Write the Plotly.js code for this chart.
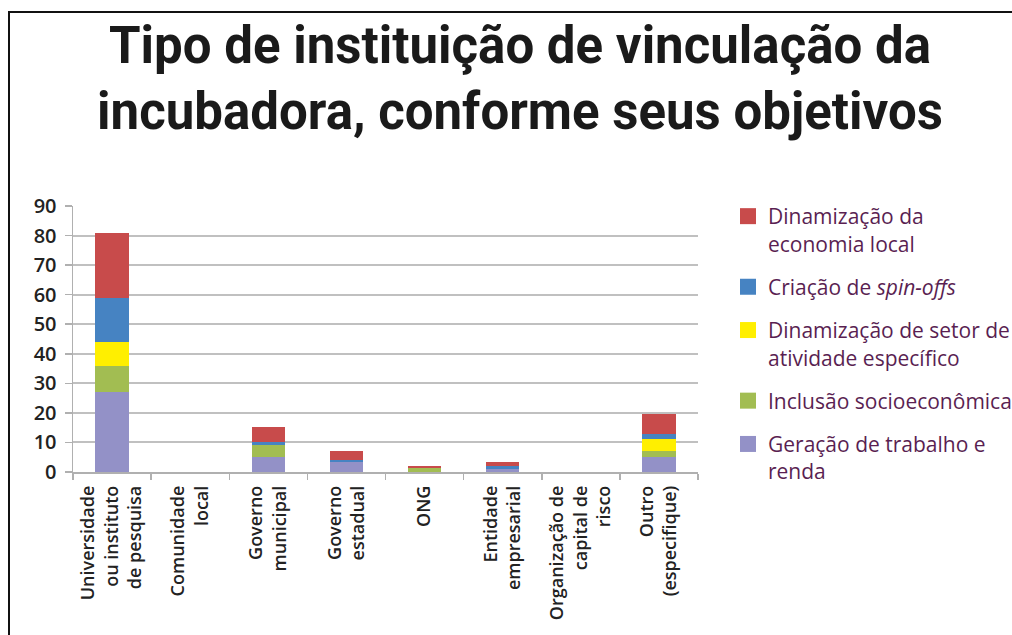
<!DOCTYPE html>
<html>
<head>
<meta charset="utf-8">
<script src="https://cdn.plot.ly/plotly-3.0.1.min.js"></script>
<style>
  html, body { margin: 0; padding: 0; background: #ffffff; }
  #wrap { position: relative; width: 1012px; height: 635px; overflow: hidden; }
  #chart { position: absolute; left: 0; top: 0; width: 1012px; height: 635px; }
  #frame { position: absolute; left: 8px; top: 11px; right: -10px; bottom: -10px;
           border-top: 2.5px solid #111; border-left: 2.5px solid #111; pointer-events: none; }
</style>
</head>
<body>
<div id="wrap">
  <div id="chart"></div>
  <div id="frame"></div>
</div>
<script>
// Categories (x axis tick labels)
var categories = [
  "Universidade<br>ou instituto<br>de pesquisa",
  "Comunidade<br>local",
  "Governo<br>municipal",
  "Governo<br>estadual",
  "ONG",
  "Entidade<br>empresarial",
  "Organização de<br>capital de<br>risco",
  "Outro<br>(especifique)"
];

// Series (stacked bottom to top)
var geracaoTrabalho   = [27, 0, 5,   3.5, 0,   0.9, 0, 5];
var inclusaoSocio     = [9,  0, 4,   0,   1.3, 0,   0, 2];
var dinamSetor        = [8,  0, 0,   0,   0,   0,   0, 4];
var criacaoSpinoffs   = [15, 0, 1,   0.5, 0,   1.2, 0, 2];
var dinamEconomia     = [22, 0, 5.3, 3.2, 0.8, 1.4, 0, 6.6];

var seriesNames = [
  "Geração de trabalho e<br>renda",
  "Inclusão socioeconômica",
  "Dinamização de setor de<br>atividade específico",
  "Criação de <i>spin-offs</i>",
  "Dinamização da<br>economia local"
];
var seriesValues = [geracaoTrabalho, inclusaoSocio, dinamSetor, criacaoSpinoffs, dinamEconomia];
var seriesColors = ["#9391c7", "#a2bd52", "#ffef00", "#4683c2", "#c84b4b"];

var yTicks = [0, 10, 20, 30, 40, 50, 60, 70, 80, 90];

var traces = [];
seriesValues.forEach(function (vals, i) {
  traces.push({
    type: "bar",
    x: categories,
    y: vals,
    name: seriesNames[i],
    marker: { color: seriesColors[i], line: { width: 0 } },
    showlegend: false,
    hoverinfo: "skip"
  });
});
// legend entries (square swatches), top series first
for (var i = seriesValues.length - 1; i >= 0; i--) {
  traces.push({
    type: "scatter",
    mode: "markers",
    x: [null],
    y: [null],
    name: seriesNames[i],
    legendgroup: "g" + i,
    marker: { color: seriesColors[i], symbol: "square", size: 16 },
    showlegend: true,
    hoverinfo: "skip"
  });
}

var layout = {
  width: 1012,
  height: 635,
  paper_bgcolor: "#ffffff",
  plot_bgcolor: "#ffffff",
  barmode: "stack",
  bargap: 0.57,
  margin: { l: 73, r: 314, t: 206, b: 163 },
  font: { family: "Open Sans, DejaVu Sans, sans-serif", color: "#222222" },
  title: {
    text: "Tipo de instituição de vinculação da<br>incubadora, conforme seus objetivos",
    font: { family: "Roboto, Open Sans, sans-serif", size: 51, weight: 700, color: "#1a1a1a" },
    xref: "container",
    x: 520 / 1012,
    xanchor: "center",
    yref: "container",
    y: 1 - 63 / 635,
    yanchor: "top"
  },
  xaxis: {
    type: "category",
    tickangle: -90,
    tickson: "boundaries",
    ticks: "outside",
    ticklen: 6,
    tickcolor: "#b0b0b0",
    tickwidth: 1.5,
    ticklabelstandoff: 5,
    showline: true,
    linecolor: "#b0b0b0",
    linewidth: 1.5,
    showgrid: false,
    tickfont: { size: 18, weight: 600, color: "#222222" },
    fixedrange: true
  },
  yaxis: {
    range: [0, 90],
    tickvals: yTicks,
    ticktext: yTicks.map(String),
    ticks: "outside",
    ticklen: 7,
    tickcolor: "#b0b0b0",
    tickwidth: 1.5,
    ticklabelstandoff: 4,
    showline: true,
    linecolor: "#b0b0b0",
    linewidth: 1.5,
    showgrid: true,
    gridcolor: "#c0c0c0",
    gridwidth: 2,
    zeroline: false,
    tickfont: { size: 20, weight: 600, color: "#222222" },
    fixedrange: true
  },
  legend: {
    xref: "container",
    yref: "container",
    x: 728 / 1012,
    y: 1 - 196 / 635,
    xanchor: "left",
    yanchor: "top",
    traceorder: "grouped",
    tracegroupgap: 13,
    valign: "top",
    bgcolor: "rgba(0,0,0,0)",
    borderwidth: 0,
    font: { size: 21, color: "#5a1f52" }
  },
  showlegend: true
};

Plotly.newPlot("chart", traces, layout, { displayModeBar: false, staticPlot: true });
</script>
</body>
</html>
